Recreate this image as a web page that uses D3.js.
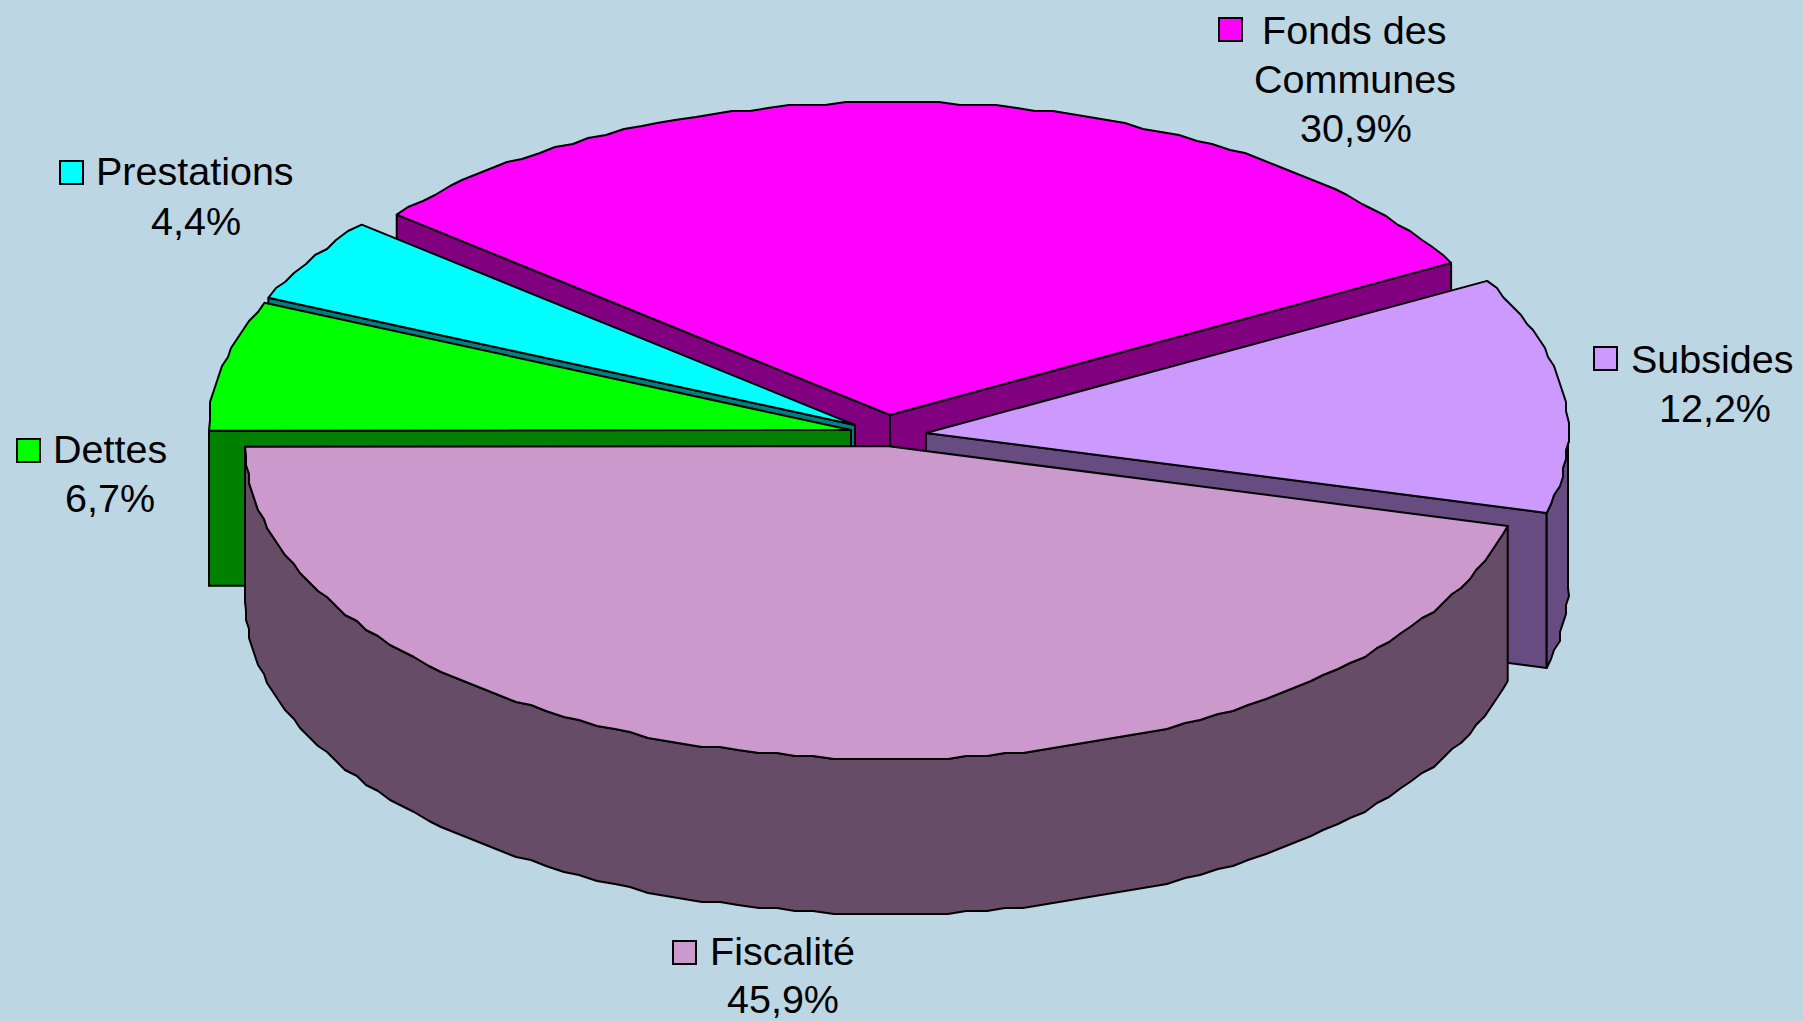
<!DOCTYPE html>
<html>
<head>
<meta charset="utf-8">
<script src="https://cdn.jsdelivr.net/npm/d3@7"></script>
<style>
html,body{margin:0;padding:0;background:#BDD6E4;overflow:hidden}
svg{display:block}
text{font-family:"Liberation Sans",Arial,sans-serif;font-size:39.5px;fill:#000}
</style>
</head>
<body>
<script>
// Data, clockwise from the Fiscalité slice
const categories = ["Fiscalité", "Dettes", "Prestations", "Fonds des Communes", "Subsides"];
const categoryLines = [["Fiscalité"], ["Dettes"], ["Prestations"], ["Fonds des", "Communes"], ["Subsides"]];
const values = [45.9, 6.7, 4.4, 30.9, 12.2];
const topColors = ["#CC99CC", "#00FF00", "#00FFFF", "#FF00FF", "#CC99FF"];
const wallColors = ["#664C66", "#008000", "#008080", "#800080", "#664C80"];

// Layout
const W = 1803, H = 1021, RX = 642, RY = 313, DEPTH = 155;
const firstAngle = 104.8 * Math.PI / 180;
const apexes = [[887, 446], [851, 430], [855, 425], [890, 415], [926, 433]];
const drawOrder = [3, 2, 1, 4, 0];
const labelLayout = [
  {sx: 673, sy: 941, tx: 710, ty: 965, cx: 783, lh: 48},
  {sx: 17, sy: 439, tx: 53, ty: 463, cx: 110, lh: 49},
  {sx: 60, sy: 161, tx: 96, ty: 185, cx: 196, lh: 50},
  {sx: 1219, sy: 18, tx: 1262, ty: 44, cx: 1356, lh: 49, cx2: 1355},
  {sx: 1594, sy: 347, tx: 1631, ty: 373, cx: 1715, lh: 49}
];

const svg = d3.select("body").append("svg").attr("width", W).attr("height", H);
svg.append("rect").attr("width", W).attr("height", H).attr("fill", "#BDD6E4");

const pie = d3.pie().sort(null).startAngle(firstAngle).endAngle(firstAngle + 2 * Math.PI);
const arcs = pie(values);
const sx = d3.scaleLinear().domain([-1, 1]).range([-RX, RX]);
const sy = d3.scaleLinear().domain([-1, 1]).range([-RY, RY]);
const line = d3.line();
const TAU = 2 * Math.PI;

// screen point for a d3.pie angle (0 = 12 o'clock, clockwise) on the ellipse
const pt = (i, a) => [apexes[i][0] + sx(Math.sin(a)), apexes[i][1] + sy(-Math.cos(a))];
const step = 1.7 * Math.PI / 180, Q = 3;
function rim(i, a0, a1) {
  const out = [pt(i, a0)];
  const n = Math.max(1, Math.round((a1 - a0) / step));
  for (let k = 1; k < n; k++) {
    const p = pt(i, a0 + (a1 - a0) * k / n);
    out.push([Math.round(p[0] / Q) * Q, Math.round(p[1] / Q) * Q]);
  }
  out.push(pt(i, a1));
  return out;
}
const down = p => [p[0], p[1] + DEPTH];
const wall = (pts, i) => svg.append("path")
  .attr("d", line(pts) + "Z").attr("fill", wallColors[i])
  .attr("stroke", "#000").attr("stroke-width", 2).attr("stroke-linejoin", "round");
const cut = (i, ang) => {
  const p = pt(i, ang), apex = apexes[i];
  wall([apex, p, down(p), down(apex)], i);
};
const norm = x => ((x % TAU) + TAU) % TAU;

drawOrder.forEach(i => {
  const {startAngle: a0, endAngle: a1} = arcs[i];
  // The start cut faces the viewer on the left half, the end cut on the right half;
  // the largest front slice hides both of its cuts behind its own body.
  if (i !== 0) {
    if (norm(a0) > Math.PI) cut(i, a0);
    if (norm(a1) < Math.PI) cut(i, a1);
  }
  // Outer wall: the rim on the front half, 90 to 270 degrees (and one turn later)
  [0, TAU].forEach(turn => {
    const f0 = Math.max(a0, Math.PI / 2 + turn), f1 = Math.min(a1, 3 * Math.PI / 2 + turn);
    if (f1 > f0) {
      const r = rim(i, f0, f1);
      wall(r.concat(r.map(down).reverse()), i);
    }
  });
  svg.append("path")
    .attr("d", line([apexes[i]].concat(rim(i, a0, a1))) + "Z")
    .attr("fill", topColors[i]).attr("stroke", "#000")
    .attr("stroke-width", 2).attr("stroke-linejoin", "round");
});

// Labels
categories.forEach((c, i) => {
  const L = labelLayout[i];
  svg.append("rect").attr("x", L.sx).attr("y", L.sy).attr("width", 23).attr("height", 23)
    .attr("fill", topColors[i]).attr("stroke", "#000").attr("stroke-width", 2);
  const lines = categoryLines[i];
  lines.forEach((t, k) => {
    const e = svg.append("text").text(t).attr("y", L.ty + k * L.lh);
    if (k === 0) e.attr("x", L.tx);
    else e.attr("x", L.cx2 || L.cx).attr("text-anchor", "middle");
  });
  svg.append("text").text(values[i].toFixed(1).replace(".", ",") + "%")
    .attr("x", L.cx).attr("y", L.ty + lines.length * L.lh).attr("text-anchor", "middle");
});
</script>
</body>
</html>
